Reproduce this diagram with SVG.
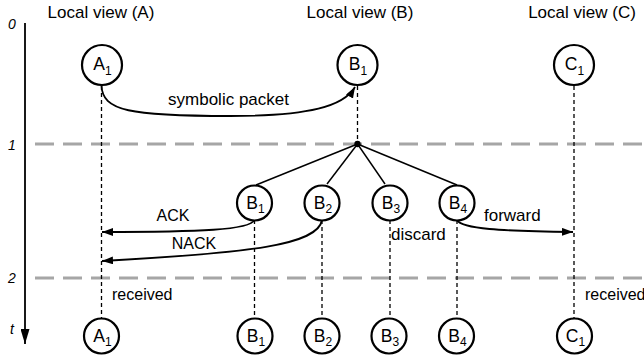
<svg xmlns="http://www.w3.org/2000/svg" width="644" height="362" viewBox="0 0 644 362">
  <style>
    text { font-family: "Liberation Sans", Arial, sans-serif; font-size: 17px; fill: #000; }
    .title { text-anchor: middle; }
    .axislbl { font-style: italic; font-size: 14px; text-anchor: middle; }
    .lbl { text-anchor: middle; }
    .small { font-size: 16px; }
    .node circle { fill: #fff; stroke: #000; stroke-width: 2.2; }
    .node text { text-anchor: middle; font-size: 17.5px; }
    .sub { font-size: 12px; }
    .grid { stroke: #a6a6a6; stroke-width: 3; stroke-dasharray: 19 9; fill: none; }
    .life { stroke: #000; stroke-width: 1.3; stroke-dasharray: 4 3; fill: none; }
    .solid { stroke: #000; stroke-width: 1.5; fill: none; }
    .msg { stroke: #000; stroke-width: 1.8; fill: none; marker-end: url(#head); }
  </style>
  <defs>
    <marker id="head" markerUnits="userSpaceOnUse" markerWidth="11" markerHeight="8" refX="11" refY="4" orient="auto">
      <path d="M0,0 L11,4 L0,8 z" fill="#000"/>
    </marker>
    <marker id="axisHead" markerUnits="userSpaceOnUse" markerWidth="15" markerHeight="9" refX="15" refY="4.5" orient="auto">
      <path d="M0,0 L15,4.5 L0,9 z" fill="#000"/>
    </marker>
  </defs>

  <!-- column headings -->
  <text class="title" x="101" y="18">Local view (A)</text>
  <text class="title" x="360" y="18">Local view (B)</text>
  <text class="title" x="582" y="18">Local view (C)</text>

  <!-- time axis -->
  <g id="time-axis">
    <line x1="25" y1="23" x2="25" y2="344" stroke="#000" stroke-width="1.8" marker-end="url(#axisHead)"/>
    <text class="axislbl" x="12" y="29">0</text>
    <text class="axislbl" x="12" y="150">1</text>
    <text class="axislbl" x="12" y="283">2</text>
    <text class="axislbl" x="12" y="334">t</text>
  </g>

  <!-- time step boundaries -->
  <g id="steps">
    <line class="grid" x1="35" y1="144" x2="644" y2="144"/>
    <line class="grid" x1="35" y1="278" x2="644" y2="278"/>
  </g>

  <g id="connectors">
    <!-- lifelines -->
    <line class="life" x1="101.5" y1="86" x2="101.5" y2="318"/>
    <line class="life" x1="357.5" y1="86" x2="357.5" y2="144"/>
    <line class="life" x1="574" y1="86" x2="574" y2="318"/>
    <line class="life" x1="254.5" y1="220" x2="254.5" y2="318"/>
    <line class="life" x1="322" y1="220" x2="322" y2="318"/>
    <line class="life" x1="390" y1="220" x2="390" y2="318"/>
    <line class="life" x1="457" y1="220" x2="457" y2="318"/>

    <!-- split into candidate states -->
    <line class="solid" x1="357.5" y1="144" x2="256" y2="185"/>
    <line class="solid" x1="357.5" y1="144" x2="327" y2="184"/>
    <line class="solid" x1="357.5" y1="144" x2="385" y2="184"/>
    <line class="solid" x1="357.5" y1="144" x2="457" y2="185"/>
    <circle cx="357.5" cy="144" r="3.2" fill="#000"/>

    <!-- messages -->
    <path class="msg" d="M101.5,85 C102,111 130,116 230,116 C310,116 344,106 355,87"/>
    <path class="msg" d="M254.5,220 C250,230 200,232 102,232"/>
    <path class="msg" d="M322,220 C318,245 250,253 102,261"/>
    <path class="msg" d="M457,220 C462,229 500,231 573,232"/>

    <text class="lbl" x="228.5" y="105">symbolic packet</text>
    <text class="lbl small" x="173" y="221">ACK</text>
    <text class="lbl small" x="194" y="249">NACK</text>
    <text x="484" y="221">forward</text>
    <text x="391" y="240">discard</text>
    <text class="small" x="112" y="300">received</text>
    <text class="small" x="585" y="300">received</text>
  </g>

  <!-- initial states -->
  <g id="A1-top" class="node">
    <circle cx="102" cy="65" r="20"/>
    <text x="102.5" y="70">A<tspan class="sub" dy="4.5">1</tspan></text>
  </g>
  <g id="B1-top" class="node">
    <circle cx="357.5" cy="65" r="20"/>
    <text x="358" y="70">B<tspan class="sub" dy="4.5">1</tspan></text>
  </g>
  <g id="C1-top" class="node">
    <circle cx="574" cy="65" r="20"/>
    <text x="574.5" y="70">C<tspan class="sub" dy="4.5">1</tspan></text>
  </g>

  <!-- candidate states at B -->
  <g id="B1-mid" class="node">
    <circle cx="254.5" cy="203" r="17.5"/>
    <text x="255.5" y="208.5">B<tspan class="sub" dy="4">1</tspan></text>
  </g>
  <g id="B2-mid" class="node">
    <circle cx="322" cy="203" r="17.5"/>
    <text x="323" y="208.5">B<tspan class="sub" dy="4">2</tspan></text>
  </g>
  <g id="B3-mid" class="node">
    <circle cx="390" cy="203" r="17.5"/>
    <text x="391" y="208.5">B<tspan class="sub" dy="4">3</tspan></text>
  </g>
  <g id="B4-mid" class="node">
    <circle cx="457" cy="203" r="17.5"/>
    <text x="458" y="208.5">B<tspan class="sub" dy="4">4</tspan></text>
  </g>

  <!-- final states -->
  <g id="A1-end" class="node">
    <circle cx="101.5" cy="336" r="17.5"/>
    <text x="102.5" y="341.5">A<tspan class="sub" dy="4">1</tspan></text>
  </g>
  <g id="B1-end" class="node">
    <circle cx="255" cy="336" r="17.5"/>
    <text x="256" y="341.5">B<tspan class="sub" dy="4">1</tspan></text>
  </g>
  <g id="B2-end" class="node">
    <circle cx="322" cy="336" r="17.5"/>
    <text x="323" y="341.5">B<tspan class="sub" dy="4">2</tspan></text>
  </g>
  <g id="B3-end" class="node">
    <circle cx="389" cy="336" r="17.5"/>
    <text x="390" y="341.5">B<tspan class="sub" dy="4">3</tspan></text>
  </g>
  <g id="B4-end" class="node">
    <circle cx="456.5" cy="336" r="17.5"/>
    <text x="457.5" y="341.5">B<tspan class="sub" dy="4">4</tspan></text>
  </g>
  <g id="C1-end" class="node">
    <circle cx="574.5" cy="336" r="17.5"/>
    <text x="575.5" y="341.5">C<tspan class="sub" dy="4">1</tspan></text>
  </g>
</svg>
